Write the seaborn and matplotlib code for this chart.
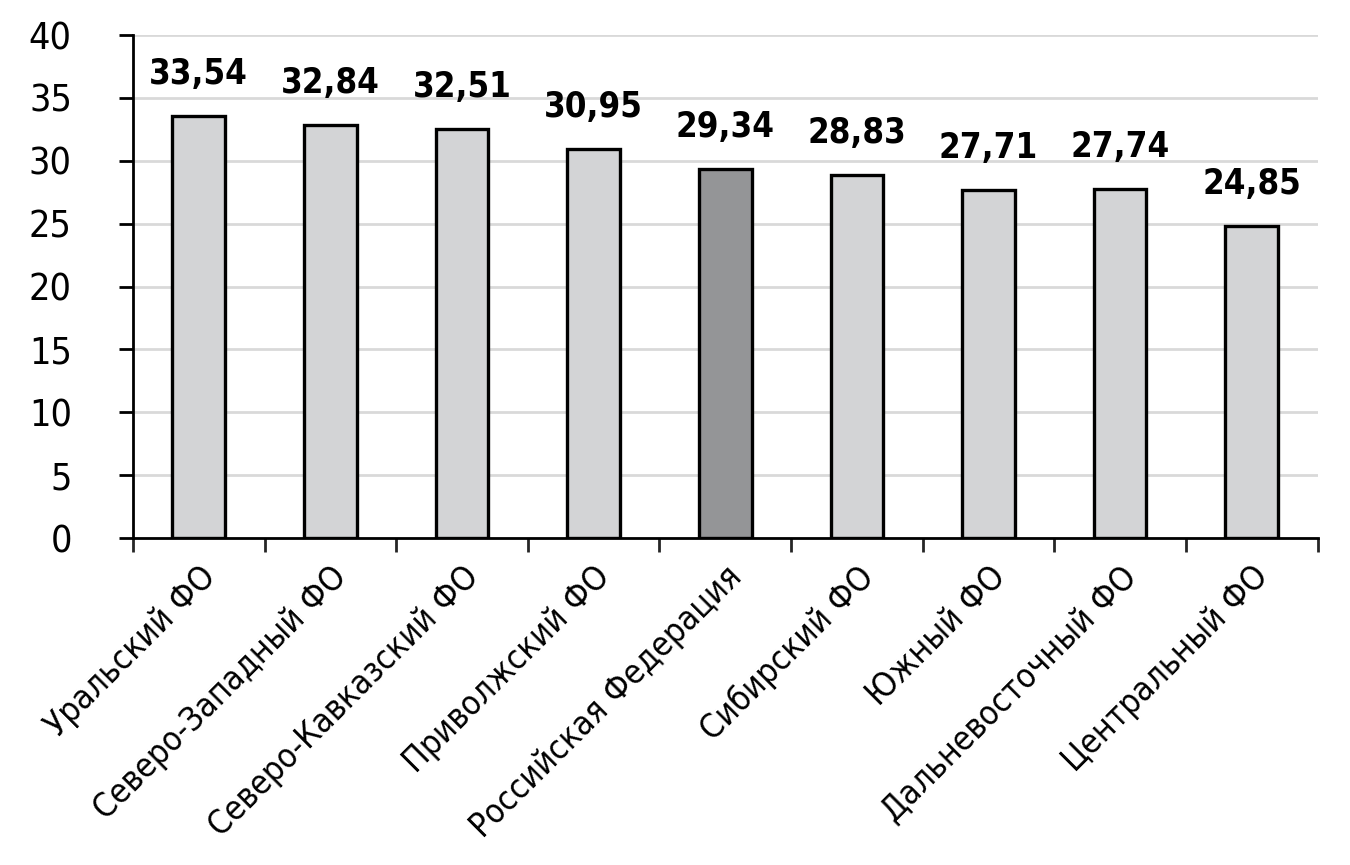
import numpy as np
import pandas as pd
import matplotlib
matplotlib.use('Agg')
import matplotlib.pyplot as plt
import seaborn as sns

regions = ['Уральский ФО', 'Северо-Западный ФО', 'Северо-Кавказский ФО',
           'Приволжский ФО', 'Российская Федерация', 'Сибирский ФО',
           'Южный ФО', 'Дальневосточный ФО', 'Центральный ФО']
values = [33.54, 32.84, 32.51, 30.95, 29.34, 28.83, 27.71, 27.74, 24.85]
highlight = 'Российская Федерация'

sns.set_theme(style='white')
plt.rcParams['font.family'] = ['DejaVu Sans']
plt.rcParams['font.stretch'] = 'condensed'
plt.rcParams['text.color'] = 'black'

df = pd.DataFrame({'region': regions, 'value': values})
palette = {r: ('#939598' if r == highlight else '#d3d4d6') for r in regions}

fig = plt.figure(figsize=(13.5, 8.65), dpi=100)
ax = fig.add_axes([0.0985, 0.378, 0.8775, 0.5815])

sns.barplot(data=df, x='region', y='value', hue='region', palette=palette,
            order=regions, width=0.4, edgecolor='black', linewidth=2.4,
            legend=False, ax=ax, zorder=3)

ax.set_ylim(0, 40)
ax.set_xlim(-0.5, len(regions) - 0.5)
ax.set_yticks(np.arange(0, 41, 5))
ax.yaxis.grid(True, color='#d9d9d9', linewidth=2, zorder=0)
ax.set_axisbelow(True)

for s in ['top', 'right']:
    ax.spines[s].set_visible(False)
for s in ['left', 'bottom']:
    ax.spines[s].set_color('black')
    ax.spines[s].set_linewidth(2)

ax.tick_params(axis='y', direction='out', length=10, width=2, colors='black',
               labelsize=27, pad=34, left=True)
ax.set_xticks(np.arange(-0.5, len(regions), 1.0), minor=True)
ax.tick_params(axis='x', which='minor', direction='out', length=10, width=2, bottom=True)
ax.tick_params(axis='x', which='major', length=0, labelsize=24, pad=16, colors='black')
ax.set_xticks(range(len(regions)))
ax.set_xticklabels(regions, rotation=45, ha='right', rotation_mode='anchor')

for i, v in enumerate(values):
    ax.annotate(f'{v:.2f}'.replace('.', ','), (i, v), xytext=(0, 18),
                textcoords='offset points', ha='center', va='bottom',
                fontsize=25, fontweight='bold', color='black')

ax.set_xlabel('')
ax.set_ylabel('')

fig.savefig('out.png', dpi=100)
